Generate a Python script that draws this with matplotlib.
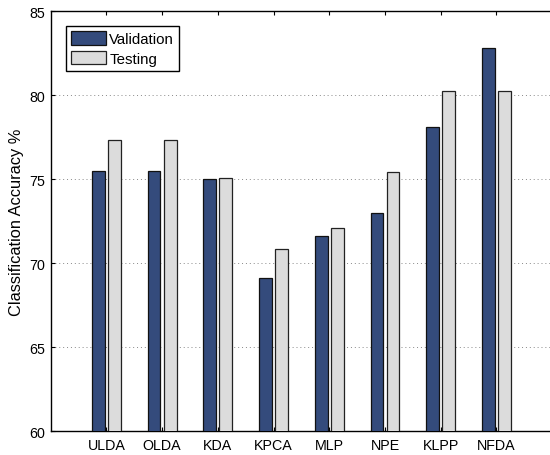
import matplotlib
matplotlib.use("Agg")
import matplotlib.pyplot as plt
import numpy as np

plt.rcParams['font.family'] = ['Liberation Sans', 'DejaVu Sans']

categories = ["ULDA", "OLDA", "KDA", "KPCA", "MLP", "NPE", "KLPP", "NFDA"]
validation = [75.45, 75.45, 75.0, 69.1, 71.62, 72.97, 78.1, 82.78]
testing = [77.3, 77.3, 75.05, 70.83, 72.08, 75.4, 80.25, 80.25]

fig = plt.figure(figsize=(5.5, 4.56), dpi=100)
ax = fig.add_axes([0.092, 0.0526, 0.912, 0.921])

x = np.arange(1, len(categories) + 1)
off = 0.145
w = 0.23
ax.bar(x - off, validation, w, color='#344b7c', edgecolor='#111111', linewidth=0.9,
       label='Validation', zorder=3)
ax.bar(x + off, testing, w, color='#dcdcdc', edgecolor='#222222', linewidth=0.9,
       label='Testing', zorder=3)

ax.set_xlim(0, 9)
ax.set_ylim(60, 85)
ax.set_xticks(x)
ax.set_xticklabels(categories)
ax.set_yticks([60, 65, 70, 75, 80, 85])
ax.tick_params(direction='in', length=3, labelsize=10.3, top=True, right=False,
               width=0.8, pad=4)
ax.tick_params(axis='x', pad=5)
ax.yaxis.grid(True, linestyle=(0, (1, 3)), color='#888888', linewidth=0.7, zorder=0)
ax.set_axisbelow(True)
for s in ['left', 'bottom', 'top']:
    ax.spines[s].set_linewidth(1.0)
ax.spines['right'].set_visible(False)
ax.set_ylabel('Classification Accuracy %', fontsize=11.8)
ax.yaxis.set_label_coords(-0.053, 0.5)

leg = ax.legend(loc='upper left', bbox_to_anchor=(0.03, 0.965), fontsize=10.8,
                frameon=True, fancybox=False, edgecolor='black', framealpha=1,
                borderpad=0.35, handlelength=2.33, handleheight=1.05, handletextpad=0.22,
                labelspacing=0.3, borderaxespad=0)
leg.get_frame().set_linewidth(1.0)

fig.savefig('out.png', dpi=100)
